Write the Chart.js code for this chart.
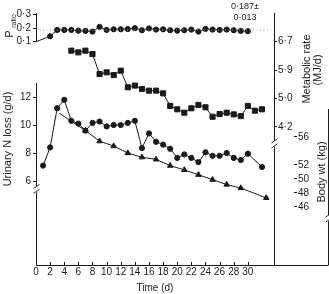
<!DOCTYPE html>
<html>
<head>
<meta charset="utf-8">
<script src="https://cdn.jsdelivr.net/npm/chart.js@4.4.0/dist/chart.umd.min.js"></script>
<style>
  html, body { margin: 0; padding: 0; background: #fff; }
</style>
</head>
<body>
<canvas id="chart" width="329" height="294"></canvas>
<script>
// P ratio (top panel)
const pDays = [0, 2, 3, 4, 5, 6, 7, 8, 9, 10, 11, 12, 13, 14, 15, 16, 17, 18, 19, 20, 21, 22, 23, 24, 25, 26, 27, 28, 29, 30];
const pRatio = [0.10, 0.14, 0.187, 0.187, 0.187, 0.182, 0.18, 0.175, 0.21, 0.187, 0.192, 0.192, 0.194, 0.20, 0.185, 0.198, 0.19, 0.192, 0.185, 0.182, 0.185, 0.19, 0.175, 0.195, 0.19, 0.187, 0.19, 0.185, 0.18, 0.178];
const pMean = 0.187;

// metabolic rate (MJ/d)
const mDays = [5, 6, 7, 8, 9, 10, 11, 12, 13, 14, 15, 16, 17, 18, 19, 20, 21, 22, 23, 24, 25, 26, 27, 28, 29, 30, 31, 32];
const metabolic = [6.43, 6.38, 6.43, 6.33, 5.74, 5.79, 5.71, 5.84, 5.35, 5.40, 5.30, 5.25, 5.25, 5.17, 4.80, 4.70, 4.60, 4.73, 4.83, 4.76, 4.48, 4.56, 4.60, 4.55, 4.50, 4.80, 4.66, 4.70];

// urinary N loss (g/d)
const nDays = [1, 2, 3, 4, 5, 6, 7, 8, 9, 10, 11, 12, 13, 14, 15, 16, 17, 18, 19, 20, 21, 22, 23, 24, 25, 26, 27, 28, 29, 30, 32];
const urinaryN = [7.1, 8.4, 11.2, 11.8, 10.3, 10.1, 9.6, 10.15, 10.25, 9.9, 10.0, 10.0, 10.15, 10.3, 8.35, 9.4, 8.8, 8.6, 8.3, 7.65, 7.9, 7.65, 7.35, 8.05, 7.8, 7.8, 8.0, 7.65, 7.5, 7.95, 7.0];

// body weight (kg)
const wDays = [3.3, 7, 9, 11, 13, 15, 17, 19, 21, 23, 25, 27, 29, 32.6];
const bodyWt = [59.4, 56.9, 55.4, 54.7, 53.7, 53.1, 52.8, 51.9, 51.3, 50.6, 49.9, 49.2, 48.7, 47.3];

// tick labels
const timeTicks = [0, 2, 4, 6, 8, 10, 12, 14, 16, 18, 20, 22, 24, 26, 28, 30];
const pTicks = [0.1, 0.2, 0.3];
const nTicks = [6, 8, 10, 12];
const mTicks = [6.694, 5.858, 5.021, 4.184];
const mTickLabels = ['6·7', '5·9', '5·0', '4·2'];
const wTicks = [46, 48, 50, 52, 56];

// axis ranges (each scale spans the whole plot height)
const nRange = [0, 18];
const pRange = [-1.554, 0.3126];
const mRange = [0.107, 7.541];
const wRange = [37.71, 73.71];

const ink = '#1a1a1a';
const font = "'Liberation Sans', Arial, sans-serif";
Chart.defaults.font.family = font;
Chart.defaults.font.size = 10;
Chart.defaults.color = ink;

const pts = (xs, ys) => xs.map((x, i) => ({ x: x, y: ys[i] }));
const dot = v => v.toFixed(1).replace('.', '·');
const setTicks = list => scale => { scale.ticks = list.map(v => ({ value: v })); };
// P ratio ticks share the left axis line with the N ticks
const pToN = p => nRange[0] + (p - pRange[0]) / (pRange[1] - pRange[0]) * (nRange[1] - nRange[0]);

function breakMark(ctx, x, y) {
  ctx.save();
  ctx.fillStyle = '#fff';
  ctx.fillRect(x - 2, y - 3, 4, 6);
  ctx.strokeStyle = ink;
  ctx.lineWidth = 0.9;
  ctx.beginPath();
  ctx.moveTo(x - 3, y - 1); ctx.lineTo(x + 3, y - 5);
  ctx.moveTo(x - 3, y + 4); ctx.lineTo(x + 3, y);
  ctx.stroke();
  ctx.restore();
}

function vText(ctx, str, x, y, size) {
  ctx.save();
  ctx.translate(x, y);
  ctx.rotate(-Math.PI / 2);
  ctx.font = size + 'px ' + font;
  ctx.textAlign = 'center';
  ctx.textBaseline = 'middle';
  ctx.fillText(str, 0, 0);
  ctx.restore();
}

const decor = {
  id: 'decor',
  afterDraw(chart) {
    const { ctx, chartArea: a, scales: s } = chart;
    ctx.save();
    ctx.strokeStyle = ink;
    ctx.lineWidth = 1;
    ctx.beginPath();
    // P ratio axis segment
    const xl = Math.round(a.left) + 0.5;
    ctx.moveTo(xl, a.top);
    ctx.lineTo(xl, s.yP.getPixelForValue(0.1));
    // urinary N axis
    ctx.moveTo(xl, s.yN.getPixelForValue(13));
    ctx.lineTo(xl, a.bottom);
    // metabolic axis
    const xm = Math.round(a.right) + 0.5;
    ctx.moveTo(xm, a.top);
    ctx.lineTo(xm, a.bottom);
    // body wt axis
    const xw = Math.round(s.yW.right) - 0.5;
    ctx.moveTo(xw, s.yW.getPixelForValue(60));
    ctx.lineTo(xw, a.bottom);
    // x axis continues under the body wt axis
    ctx.moveTo(a.right, Math.round(a.bottom) + 0.5);
    ctx.lineTo(xw, Math.round(a.bottom) + 0.5);
    ctx.stroke();
    // inward time ticks
    ctx.beginPath();
    timeTicks.forEach(d => {
      const x = Math.round(s.x.getPixelForValue(d)) + 0.5;
      ctx.moveTo(x, a.bottom);
      ctx.lineTo(x, a.bottom - 3);
    });
    ctx.stroke();
    ctx.restore();

    breakMark(ctx, xl, s.yN.getPixelForValue(5.4));
    breakMark(ctx, xm, s.yM.getPixelForValue(3.68));
    breakMark(ctx, xw, s.yW.getPixelForValue(44.4));

    ctx.save();
    ctx.fillStyle = ink;
    vText(ctx, 'P', 10, 34, 11);
    vText(ctx, 'ratio', 14, 21, 7);
    vText(ctx, 'Metabolic rate', 307, 69, 11);
    vText(ctx, '(MJ/d)', 318, 70, 11);
    vText(ctx, 'Body wt (kg)', 322, 172, 11);
    ctx.font = '9px ' + font;
    ctx.textAlign = 'center';
    ctx.textBaseline = 'middle';
    ctx.fillText('0·187±', 245, 7);
    ctx.fillText('0·013', 245, 18);
    ctx.restore();
  }
};

const yBase = {
  type: 'linear',
  grid: { drawOnChartArea: false, tickLength: 3, color: ink },
  border: { display: false }
};

new Chart(document.getElementById('chart'), {
  type: 'line',
  data: {
    datasets: [
      {
        data: pts([0, 33.3], [pMean, pMean]), yAxisID: 'yP',
        borderColor: '#9a9a9a', borderWidth: 1, borderDash: [1, 2.5], pointRadius: 0
      },
      {
        data: pts(pDays, pRatio), yAxisID: 'yP',
        borderColor: ink, borderWidth: 1, backgroundColor: ink,
        pointRadius: c => (c.dataIndex === 0 ? 0 : 2.6), pointStyle: 'circle'
      },
      {
        data: pts(mDays, metabolic), yAxisID: 'yM',
        borderColor: ink, borderWidth: 1, backgroundColor: ink,
        pointRadius: 3.6, pointStyle: 'rect'
      },
      {
        data: pts(nDays, urinaryN), yAxisID: 'yN',
        borderColor: ink, borderWidth: 1, backgroundColor: ink,
        pointRadius: 2.6, pointStyle: 'circle'
      },
      {
        data: pts(wDays, bodyWt), yAxisID: 'yW',
        borderColor: ink, borderWidth: 1, backgroundColor: ink,
        pointRadius: c => (c.dataIndex === 0 ? 0 : 3.2), pointStyle: 'triangle'
      }
    ]
  },
  options: {
    responsive: false,
    animation: false,
    devicePixelRatio: 1,
    layout: { padding: { top: 13, left: 0, right: 0, bottom: 0 } },
    elements: { line: { tension: 0 }, point: { borderWidth: 0, hoverRadius: 0 } },
    plugins: { legend: { display: false }, tooltip: { enabled: false } },
    scales: {
      x: {
        type: 'linear', min: 0, max: 33.7,
        afterBuildTicks: setTicks(timeTicks),
        ticks: { autoSkip: false, maxRotation: 0, padding: 1, callback: v => String(v) },
        grid: { drawOnChartArea: false, drawTicks: false },
        border: { color: ink, width: 1 },
        title: { display: true, text: 'Time (d)', padding: 0, font: { size: 10 } },
        afterFit: s => { s.height = 29; }
      },
      yN: Object.assign({}, yBase, {
        position: 'left', min: nRange[0], max: nRange[1],
        afterBuildTicks: s => {
          s.ticks = nTicks.map(v => ({ value: v })).concat(pTicks.map(p => ({ value: pToN(p) })));
        },
        ticks: {
          padding: 2, autoSkip: false,
          callback: (v, i) => (i < nTicks.length ? String(nTicks[i]) : dot(pTicks[i - nTicks.length]))
        },
        title: { display: true, text: 'Urinary N loss (g/d)', padding: 1, font: { size: 11 } },
        afterFit: s => { s.width = 36; }
      }),
      yP: { type: 'linear', display: false, min: pRange[0], max: pRange[1] },
      yM: Object.assign({}, yBase, {
        position: 'right', weight: 0, min: mRange[0], max: mRange[1],
        afterBuildTicks: setTicks(mTicks),
        ticks: { padding: 1, autoSkip: false, callback: v => mTickLabels[mTicks.indexOf(v)] },
        afterFit: s => { s.width = 20; }
      }),
      yW: Object.assign({}, yBase, {
        position: 'right', weight: 1, min: wRange[0], max: wRange[1],
        afterBuildTicks: setTicks(wTicks),
        ticks: { padding: 1, autoSkip: false, callback: v => String(v) },
        afterFit: s => { s.width = 35; }
      })
    }
  },
  plugins: [decor]
});
</script>
</body>
</html>
